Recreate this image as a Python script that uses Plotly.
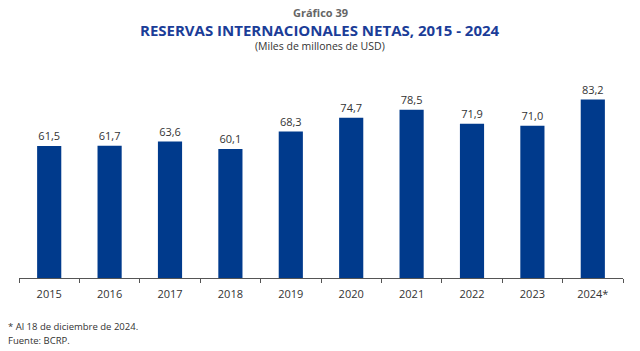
import plotly.graph_objects as go

years = ["2015", "2016", "2017", "2018", "2019", "2020", "2021", "2022", "2023", "2024*"]
values = [61.5, 61.7, 63.6, 60.1, 68.3, 74.7, 78.5, 71.9, 71.0, 83.2]
labels = [f"{v:.1f}".replace(".", ",") for v in values]

FONT = "Open Sans"
fig = go.Figure(go.Bar(
    x=years, y=values, text=labels, textposition="outside",
    textfont=dict(family=FONT, size=11, color="#333333"),
    marker=dict(color="#003A8C", line=dict(width=0)),
    width=0.4, cliponaxis=False,
))

fig.update_layout(
    width=640, height=351, margin=dict(l=19, r=17, t=85, b=73),
    paper_bgcolor="white", plot_bgcolor="white", showlegend=False,
    font=dict(family=FONT, size=11, color="#333333"),
    xaxis=dict(type="category", showline=True, linecolor="#555555", linewidth=1,
               ticks="outside", tickson="boundaries", ticklen=4, tickcolor="#555555",
               ticklabelstandoff=6,
               showgrid=False, tickfont=dict(size=11, color="#333333")),
    yaxis=dict(range=[0, 90], visible=False, showgrid=False),
)

plot_h = 351 - 85 - 73
def py(pix):  # pixel y from top -> paper coordinate
    return (351 - 73 - pix) / plot_h
def px(pix):
    return (pix - 19) / (640 - 19 - 17)

header = [
    ("<b>Gráfico 39</b>", 320, 12, 11, "#666666", "center"),
    ("<b>RESERVAS INTERNACIONALES NETAS, 2015 - 2024</b>", 320, 30, 15, "#1B3D98", "center"),
    ("(Miles de millones de USD)", 320, 46, 10.5, "#333333", "center"),
    ("* Al 18 de diciembre de 2024.", 6, 326, 9.5, "#333333", "left"),
    ("Fuente: BCRP.", 6, 340, 9.5, "#333333", "left"),
]
fig.update_layout(annotations=[
    dict(text=t, xref="paper", yref="paper", x=px(x), y=py(y), xanchor=xa, yanchor="middle",
         showarrow=False, font=dict(family=FONT, size=s, color=c))
    for t, x, y, s, c, xa in header
])

fig.write_html("out.html")
